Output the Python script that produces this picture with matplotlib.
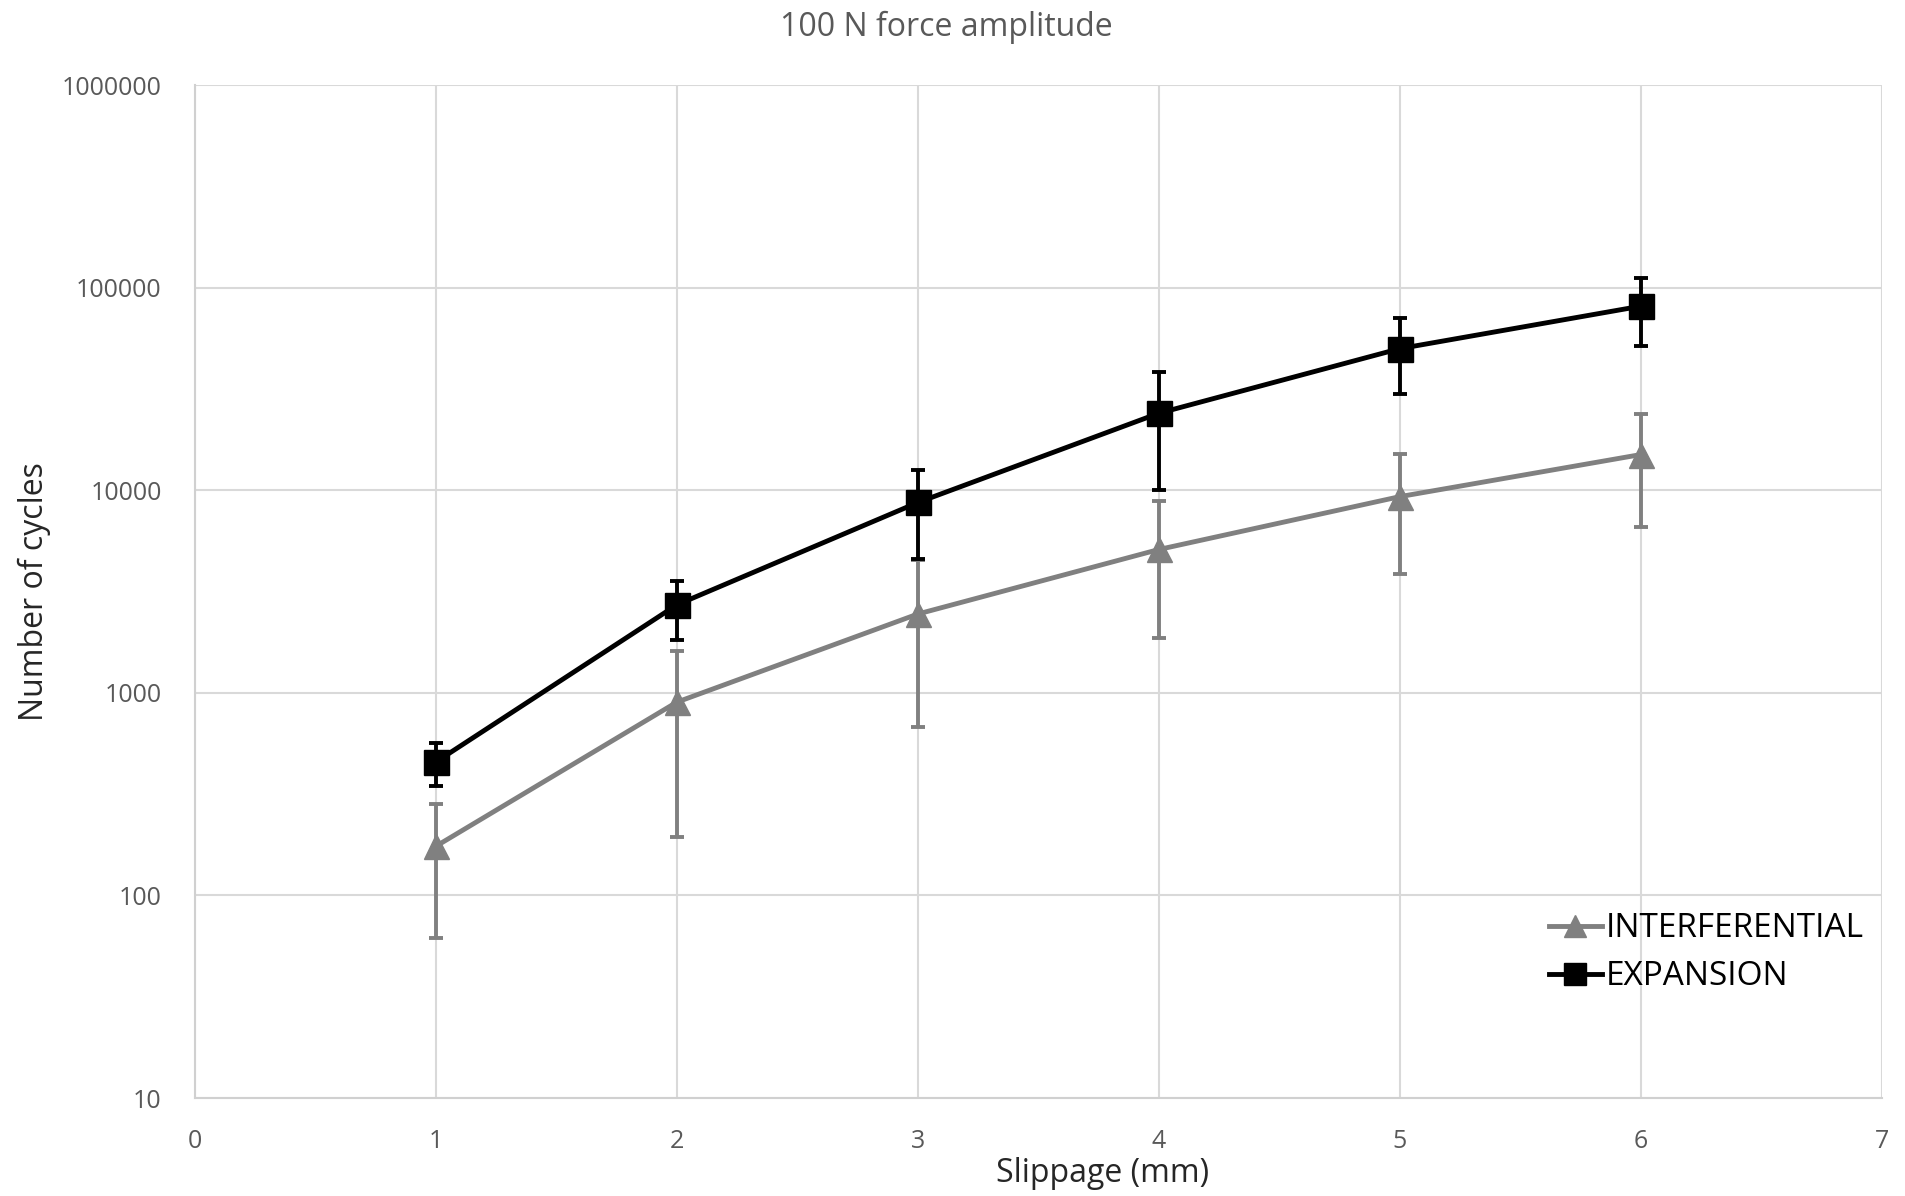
import matplotlib
matplotlib.use("Agg")
import matplotlib.pyplot as plt
import numpy as np

slippage = [1, 2, 3, 4, 5, 6]

interf = [175, 900, 2450, 5100, 9300, 15000]
interf_hi = [284, 1600, 4530, 8800, 15100, 23700]
interf_lo = [62, 194, 680, 1870, 3840, 6580]

expan = [456, 2720, 8700, 24000, 50000, 81000]
expan_hi = [565, 3580, 12600, 38200, 71000, 112000]
expan_lo = [347, 1820, 4590, 9980, 29800, 51500]

plt.rcParams['font.family'] = ['Open Sans', 'DejaVu Sans']

fig = plt.figure(figsize=(19.06, 11.96), dpi=100)
ax = fig.add_axes([0.1023, 0.0819, 0.8850, 0.847])

def yerr(mid, lo, hi):
    mid = np.array(mid)
    return [mid - np.array(lo), np.array(hi) - mid]

ax.errorbar(slippage, interf, yerr=yerr(interf, interf_lo, interf_hi),
            color='#808080', lw=3.5, marker='^', markersize=18,
            elinewidth=2.8, capsize=5, capthick=2.8, label='INTERFERENTIAL', zorder=3)
ax.errorbar(slippage, expan, yerr=yerr(expan, expan_lo, expan_hi),
            color='black', lw=3.5, marker='s', markersize=18,
            elinewidth=2.8, capsize=5, capthick=2.8, label='EXPANSION', zorder=4)

ax.set_yscale('log')
ax.set_ylim(10, 1000000)
ax.set_xlim(0, 7)
ax.set_xticks(range(0, 8))
ax.set_yticks([10, 100, 1000, 10000, 100000, 1000000])
ax.set_yticklabels(['10', '100', '1000', '10000', '100000', '1000000'])
ax.minorticks_off()
ax.tick_params(length=0, labelsize=18, labelcolor='#595959')
ax.tick_params(axis='y', pad=24)
ax.tick_params(axis='x', pad=22)

ax.grid(True, color='#d9d9d9', lw=1.5)
ax.set_axisbelow(True)
for s in ax.spines.values():
    s.set_visible(False)
ax.spines['left'].set_visible(True)
ax.spines['left'].set_color('#d0d0d0')
ax.spines['left'].set_linewidth(1.5)
ax.spines['bottom'].set_visible(True)
ax.spines['bottom'].set_color('#d0d0d0')
ax.spines['bottom'].set_linewidth(1.5)

ax.set_xlabel('Slippage (mm)', fontsize=23, color='#262626')
ax.xaxis.set_label_coords(0.538, -0.058)
ax.set_ylabel('Number of cycles', fontsize=23, color='#262626', labelpad=8)
fig.text(0.4963, 0.977, '100 N force amplitude', fontsize=23, color='#595959',
         ha='center', va='center')

handles, labels = ax.get_legend_handles_labels()
handles = [h[0] for h in handles]
leg = ax.legend(handles, labels, loc='upper right', bbox_to_anchor=(1.007, 0.213),
                frameon=False, fontsize=24, handlelength=1.6, handletextpad=0.1,
                labelspacing=0.45, markerscale=0.85)

fig.savefig('out.png', dpi=100)
